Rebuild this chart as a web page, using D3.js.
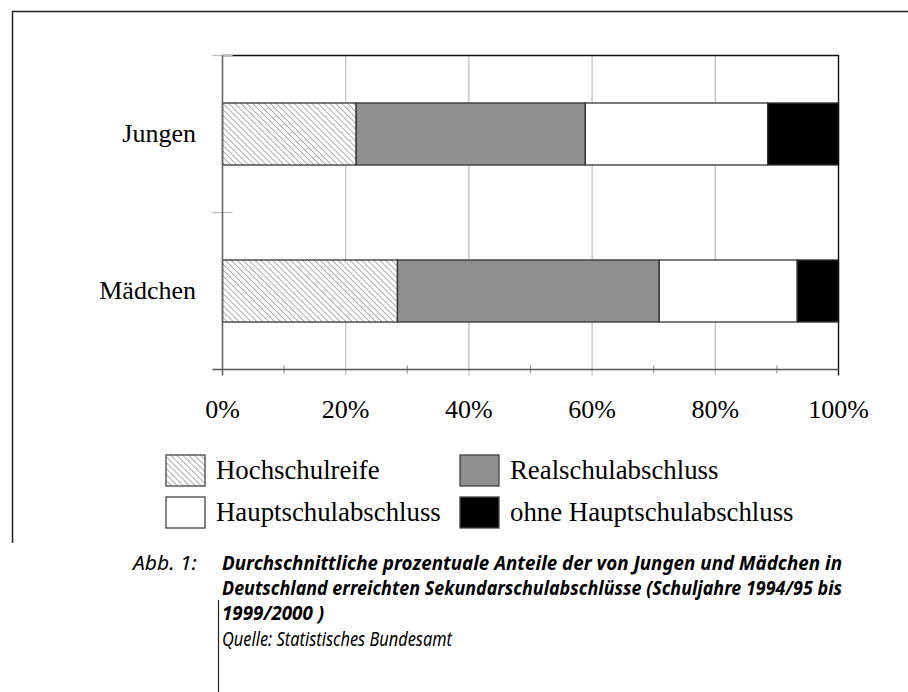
<!DOCTYPE html>
<html>
<head>
<meta charset="utf-8">
<script src="https://cdn.jsdelivr.net/npm/d3@7"></script>
<style>
  body { margin: 0; background: #fff; }
  svg { display: block; }
</style>
</head>
<body>
<div id="chart"></div>
<script>
// Data (percent shares)
const groups = ["Jungen", "Mädchen"];
const series = ["Hochschulreife", "Realschulabschluss", "Hauptschulabschluss", "ohne Hauptschulabschluss"];
const jungenValues = [21.7, 37.2, 29.6, 11.5];
const maedchenValues = [28.4, 42.5, 22.4, 6.7];
const xTicks = [0, 20, 40, 60, 80, 100];
const captionLines = [
    "Durchschnittliche prozentuale Anteile der von Jungen und Mädchen in",
    "Deutschland erreichten Sekundarschulabschlüsse (Schuljahre 1994/95 bis",
    "1999/2000 )"
];
const sourceText = "Quelle: Statistisches Bundesamt";

const W = 908, H = 692;
const plot = { left: 222.5, right: 838.5, top: 55.5, bottom: 369.5 };
const serif = "'Liberation Serif', 'Times New Roman', serif";
const sans = "'Noto Sans', 'Open Sans', sans-serif";

const svg = d3.select("#chart")
    .append("svg")
    .attr("width", W)
    .attr("height", H);

// Hatch pattern for Hochschulreife
const defs = svg.append("defs");
const pat = defs.append("pattern")
    .attr("id", "hatch")
    .attr("patternUnits", "userSpaceOnUse")
    .attr("width", 4.2)
    .attr("height", 4.2)
    .attr("patternTransform", "rotate(-45)");
pat.append("rect").attr("width", 4.2).attr("height", 4.2).attr("fill", "#fff");
pat.append("line")
    .attr("x1", 0).attr("y1", 0).attr("x2", 0).attr("y2", 4.2)
    .attr("stroke", "#6f6f6f")
    .attr("stroke-width", 1.1);

const fills = ["url(#hatch)", "#8f8f8f", "#ffffff", "#000000"];

// Outer frame (page border)
svg.append("path")
    .attr("d", `M12.5,543 L12.5,11.5 L${W},11.5`)
    .attr("fill", "none")
    .attr("stroke", "#222")
    .attr("stroke-width", 1.5);
svg.append("line")
    .attr("x1", 218.5).attr("x2", 218.5)
    .attr("y1", 600).attr("y2", H)
    .attr("stroke", "#222")
    .attr("stroke-width", 1.2);

// Scales
const x = d3.scaleLinear()
    .domain([0, 100])
    .range([plot.left, plot.right]);

const y = d3.scaleBand()
    .domain(groups)
    .range([plot.top, plot.bottom])
    .paddingInner(0.605)
    .paddingOuter(0.3025);

// Gridlines (major ticks extend below axis)
svg.append("g")
    .selectAll("line")
    .data(xTicks.slice(1, -1))
    .enter()
    .append("line")
    .attr("x1", d => x(d)).attr("x2", d => x(d))
    .attr("y1", plot.top).attr("y2", plot.bottom + 6)
    .attr("stroke", "#bdbdbd")
    .attr("stroke-width", 1.2);

// Minor ticks on x axis
svg.append("g")
    .selectAll("line")
    .data(d3.range(10, 100, 20))
    .enter()
    .append("line")
    .attr("x1", d => x(d)).attr("x2", d => x(d))
    .attr("y1", plot.bottom - 4).attr("y2", plot.bottom + 4)
    .attr("stroke", "#9a9a9a")
    .attr("stroke-width", 1.2);

// Stacked bars
const rows = [jungenValues, maedchenValues];
rows.forEach((vals, gi) => {
    let acc = 0;
    const stack = vals.map((v, si) => {
        const seg = { s: si, x0: acc, x1: acc + v };
        acc += v;
        return seg;
    });
    svg.append("g")
        .selectAll("rect")
        .data(stack)
        .enter()
        .append("rect")
        .attr("x", d => x(d.x0))
        .attr("y", y(groups[gi]))
        .attr("width", d => x(d.x1) - x(d.x0))
        .attr("height", y.bandwidth())
        .attr("fill", d => fills[d.s])
        .attr("stroke", "#333")
        .attr("stroke-width", 1.3);
});

// Plot frame: top and right
svg.append("path")
    .attr("d", `M${plot.left},${plot.top} L${plot.right},${plot.top} L${plot.right},${plot.bottom + 6}`)
    .attr("fill", "none")
    .attr("stroke", "#111")
    .attr("stroke-width", 1.4);

// Category ticks on left axis
svg.append("g")
    .selectAll("line")
    .data([plot.top, (plot.top + plot.bottom) / 2])
    .enter()
    .append("line")
    .attr("x1", plot.left - 10).attr("x2", plot.left + 10)
    .attr("y1", d => d).attr("y2", d => d)
    .attr("stroke", "#bcbcbc")
    .attr("stroke-width", 1.3);

// Axes lines
svg.append("line")
    .attr("x1", plot.left - 10).attr("x2", plot.right)
    .attr("y1", plot.bottom).attr("y2", plot.bottom)
    .attr("stroke", "#555")
    .attr("stroke-width", 1.4);
svg.append("line")
    .attr("x1", plot.left).attr("x2", plot.left)
    .attr("y1", plot.top).attr("y2", plot.bottom + 6)
    .attr("stroke", "#666")
    .attr("stroke-width", 1.6);

// x tick labels
svg.append("g")
    .selectAll("text")
    .data(xTicks)
    .enter()
    .append("text")
    .attr("x", d => x(d))
    .attr("y", 418)
    .attr("text-anchor", "middle")
    .style("font-family", serif)
    .style("font-size", "26px")
    .text(d => d + "%");

// y labels
svg.append("g")
    .selectAll("text")
    .data(groups)
    .enter()
    .append("text")
    .attr("x", 196)
    .attr("y", d => y(d) + y.bandwidth() / 2 + 8)
    .attr("text-anchor", "end")
    .style("font-family", serif)
    .style("font-size", "26px")
    .text(d => d);

// Legend
const legendPos = [
    { bx: 166, by: 455, tx: 216 },
    { bx: 460, by: 455, tx: 510 },
    { bx: 166, by: 497, tx: 216 },
    { bx: 460, by: 497, tx: 510 }
];
const legend = svg.append("g");
series.forEach((name, i) => {
    const p = legendPos[i];
    legend.append("rect")
        .attr("x", p.bx).attr("y", p.by)
        .attr("width", 39).attr("height", 31)
        .attr("fill", fills[i])
        .attr("stroke", "#444")
        .attr("stroke-width", 1.3);
    legend.append("text")
        .attr("x", p.tx)
        .attr("y", p.by + 24)
        .style("font-family", serif)
        .style("font-size", "26.8px")
        .text(name);
});

// Caption
svg.append("text")
    .attr("x", 133)
    .attr("y", 570)
    .style("font-family", sans)
    .style("font-style", "italic")
    .style("font-size", "20px")
    .attr("textLength", 64)
    .attr("lengthAdjust", "spacingAndGlyphs")
    .text("Abb. 1:");

// condensed look: first two lines fill the same measure, last one uses the same squeeze
const capWidths = [620, 620];
const capNodes = captionLines.map((line, i) =>
    svg.append("text")
        .attr("x", 222)
        .attr("y", 570 + i * 25)
        .style("font-family", sans)
        .style("font-style", "italic")
        .style("font-weight", "bold")
        .style("font-size", "20px")
        .text(line)
);
const ratio = capWidths[0] / capNodes[0].node().getComputedTextLength();
capNodes.forEach((t, i) => {
    const w = capWidths[i] || t.node().getComputedTextLength() * ratio;
    t.attr("textLength", w).attr("lengthAdjust", "spacingAndGlyphs");
});

svg.append("text")
    .attr("x", 222)
    .attr("y", 646)
    .style("font-family", sans)
    .style("font-style", "italic")
    .style("font-size", "20px")
    .attr("textLength", 230)
    .attr("lengthAdjust", "spacingAndGlyphs")
    .text(sourceText);
</script>
</body>
</html>
